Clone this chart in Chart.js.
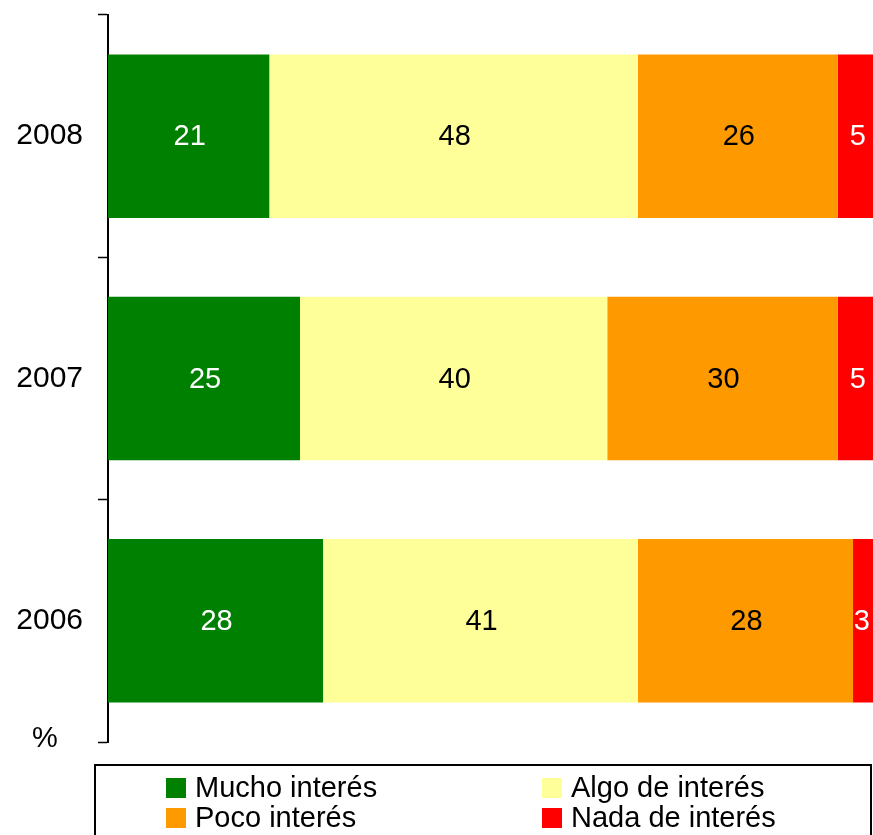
<!DOCTYPE html>
<html>
<head>
<meta charset="utf-8">
<script src="https://cdn.jsdelivr.net/npm/chart.js@4/dist/chart.umd.min.js"></script>
<style>
  body { margin: 0; background: #fff; font-family: "Liberation Sans", Arial, sans-serif; }
  #wrap { position: relative; width: 873px; height: 835px; overflow: hidden; }
  #chart { position: absolute; left: 0; top: 0; }
  #legend {
    position: absolute; left: 94px; top: 764px; width: 778px; height: 90px;
    border: 2px solid #000; box-sizing: border-box;
  }
  .sw { position: absolute; width: 20px; height: 20px; }
  .txt { position: absolute; font-size: 29px; line-height: 30px; color: #000; white-space: nowrap; }
</style>
</head>
<body>
<div id="wrap">
  <canvas id="chart" width="873" height="835"></canvas>
  <div id="legend"></div>
</div>
<script>
// categories top to bottom
const years = ["2008", "2007", "2006"];

// series values (%)
const mucho = [21, 25, 28];
const algo = [48, 40, 41];
const poco = [26, 30, 28];
const nada = [5, 5, 3];

const seriesNames = ["Mucho interés", "Algo de interés", "Poco interés", "Nada de interés"];
const seriesColors = ["#008000", "#FFFF99", "#FF9900", "#FF0000"];
const labelColors = ["#FFFFFF", "#000000", "#000000", "#FFFFFF"];

const FONT = "'Liberation Sans', Arial, sans-serif";

const chartData = {
  labels: years,
  datasets: [mucho, algo, poco, nada].map((vals, i) => ({
    label: seriesNames[i],
    data: vals,
    backgroundColor: seriesColors[i],
    borderWidth: 0,
    barPercentage: 1,
    categoryPercentage: 0.675,
  })),
};

// draws the value in the middle of each bar segment, plus the "%" note
const barLabels = {
  id: "barLabels",
  afterDatasetsDraw(chart) {
    const ctx = chart.ctx;
    const right = chart.chartArea.right;
    ctx.save();
    ctx.font = "29px " + FONT;
    ctx.textAlign = "center";
    ctx.textBaseline = "middle";
    chart.data.datasets.forEach((ds, i) => {
      chart.getDatasetMeta(i).data.forEach((bar, j) => {
        const txt = String(ds.data[j]);
        const half = ctx.measureText(txt).width / 2;
        // keep labels of the cut-off last segment inside the picture
        const x = Math.min((bar.x + bar.base) / 2 + 1, right - half - 3);
        ctx.fillStyle = labelColors[i];
        ctx.fillText(txt, x, bar.y + 1);
      });
    });
    ctx.fillStyle = "#000";
    ctx.fillText("%", 45, 739);
    ctx.restore();
  },
};

new Chart(document.getElementById("chart"), {
  type: "bar",
  data: chartData,
  options: {
    indexAxis: "y",
    responsive: false,
    animation: false,
    layout: { padding: { top: 15, bottom: 93, right: 0, left: 0 } },
    scales: {
      // the original plot runs a little past the right edge of the picture
      x: { stacked: true, display: false, min: 0, max: 99.6 },
      y: {
        stacked: true,
        afterFit: (scale) => {
          scale.width = 108;
          scale.paddingTop = 0;
          scale.paddingBottom = 0;
        },
        grid: {
          offset: true,
          drawOnChartArea: false,
          drawTicks: true,
          tickLength: 10,
          tickWidth: 1.5,
          tickColor: "#000",
        },
        border: { display: true, color: "#000", width: 2 },
        ticks: { color: "#000", font: { family: FONT, size: 30 }, padding: 15 },
      },
    },
    plugins: {
      legend: { display: false },
      tooltip: { enabled: false },
    },
  },
  plugins: [barLabels],
});

// legend in two columns, inside a framed box
const legend = document.getElementById("legend");
const spots = [[70, 12], [446, 12], [70, 42], [446, 42]];
seriesNames.forEach((name, k) => {
  const sw = document.createElement("div");
  sw.className = "sw";
  sw.style.background = seriesColors[k];
  sw.style.left = spots[k][0] + "px";
  sw.style.top = spots[k][1] + "px";
  legend.appendChild(sw);
  const t = document.createElement("div");
  t.className = "txt";
  t.textContent = name;
  t.style.left = (spots[k][0] + 29) + "px";
  t.style.top = (spots[k][1] - 6) + "px";
  legend.appendChild(t);
});
</script>
</body>
</html>
